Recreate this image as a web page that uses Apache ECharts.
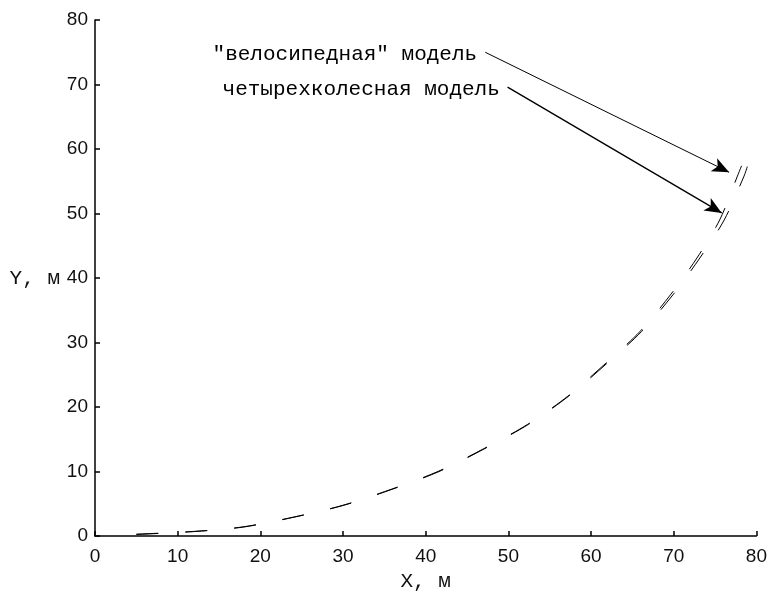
<!DOCTYPE html>
<html>
<head>
<meta charset="utf-8">
<script src="https://cdn.jsdelivr.net/npm/echarts@6/dist/echarts.min.js"></script>
<style>
  html, body { margin: 0; padding: 0; background: #fff; }
  #chart { width: 770px; height: 597px; }
</style>
</head>
<body>
<div id="chart"></div>
<script>
// Trajectory of the "bicycle" vehicle model, X and Y in metres
const xBicycle = [5.0, 12.2, 18.0, 24.1, 30.0, 35.95, 41.6, 47.05, 52.4, 57.3, 61.85, 66.1, 69.9, 73.15, 76.1, 78.5, 78.9];
const yBicycle = [0.25, 0.72, 1.41, 2.94, 4.75, 7.26, 10.0, 13.5, 17.3, 21.7, 26.7, 31.7, 37.4, 43.1, 49.0, 55.8, 57.3];

// Trajectory of the four-wheel vehicle model
const xFourWheel = [5.0, 12.2, 18.0, 24.1, 30.0, 35.9, 41.5, 46.95, 52.3, 57.2, 61.7, 65.9, 69.6, 72.8, 75.55, 77.7, 78.2];
const yFourWheel = [0.3, 0.75, 1.45, 2.97, 4.78, 7.29, 10.03, 13.5, 17.3, 21.7, 26.7, 31.7, 37.4, 43.1, 49.0, 55.8, 57.4];

// Axis ticks
const xTicks = [0, 10, 20, 30, 40, 50, 60, 70, 80];
const yTicks = [0, 10, 20, 30, 40, 50, 60, 70, 80];

// Callout labels: [text, start of leader line, arrow tip, line width], points in data units
const callouts = [
  ['"велосипедная" модель', [47.2, 75.0], [76.7, 56.4], 1],
  ['четырехколесная модель', [49.9, 69.6], [75.8, 50.1], 1.4]
];

const zip = (xs, ys) => xs.map((x, i) => [x, ys[i]]);

const MONO = '"Liberation Mono", "DejaVu Sans Mono", monospace';
const SANS = '"Liberation Sans", Arial, sans-serif';

const axisCommon = (ticks, labelMargin) => ({
  type: 'value',
  min: ticks[0],
  max: ticks[ticks.length - 1],
  interval: ticks[1] - ticks[0],
  splitLine: { show: false },
  axisLine: { show: true, onZero: false, lineStyle: { color: '#000', width: 1.5 } },
  axisTick: { show: true, inside: true, length: 5, lineStyle: { color: '#000', width: 1.5 } },
  axisLabel: {
    color: '#111', fontFamily: SANS, fontSize: 19, margin: labelMargin,
    showMinLabel: true, showMaxLabel: true
  },
  nameTextStyle: { color: '#111', fontFamily: MONO, fontSize: 21 }
});

// dash / gap lengths in pixels
const dash = [22, 27];

const option = {
  animation: false,
  backgroundColor: '#fff',
  grid: { left: 95, right: 13, top: 20, bottom: 54 },
  xAxis: Object.assign(axisCommon(xTicks, 11), {
    name: 'X, м', nameLocation: 'middle', nameGap: 34
  }),
  yAxis: Object.assign(axisCommon(yTicks, 7), {
    name: 'Y, м', nameLocation: 'middle', nameGap: 35, nameRotate: 0
  }),
  series: [
    {
      name: '"велосипедная" модель',
      type: 'line',
      data: zip(xBicycle, yBicycle),
      showSymbol: false,
      smooth: 0.3,
      silent: true,
      lineStyle: { color: '#000', width: 1, type: dash },
      markLine: {
        silent: true,
        animation: false,
        symbol: ['none', 'arrow'],
        symbolSize: [11, 17],
        data: callouts.map(([text, from, to, w]) => [
          {
            coord: from,
            lineStyle: { color: '#000', width: w, type: 'solid' },
            label: {
              show: true, position: 'start', formatter: text, distance: [9, -5],
              color: '#000', fontFamily: MONO, fontSize: 21
            }
          },
          { coord: to }
        ])
      }
    },
    {
      name: 'четырехколесная модель',
      type: 'line',
      data: zip(xFourWheel, yFourWheel),
      showSymbol: false,
      smooth: 0.3,
      silent: true,
      lineStyle: { color: '#000', width: 1, type: dash }
    }
  ]
};

const chart = echarts.init(document.getElementById('chart'), null, { renderer: 'canvas' });
chart.setOption(option);
</script>
</body>
</html>
